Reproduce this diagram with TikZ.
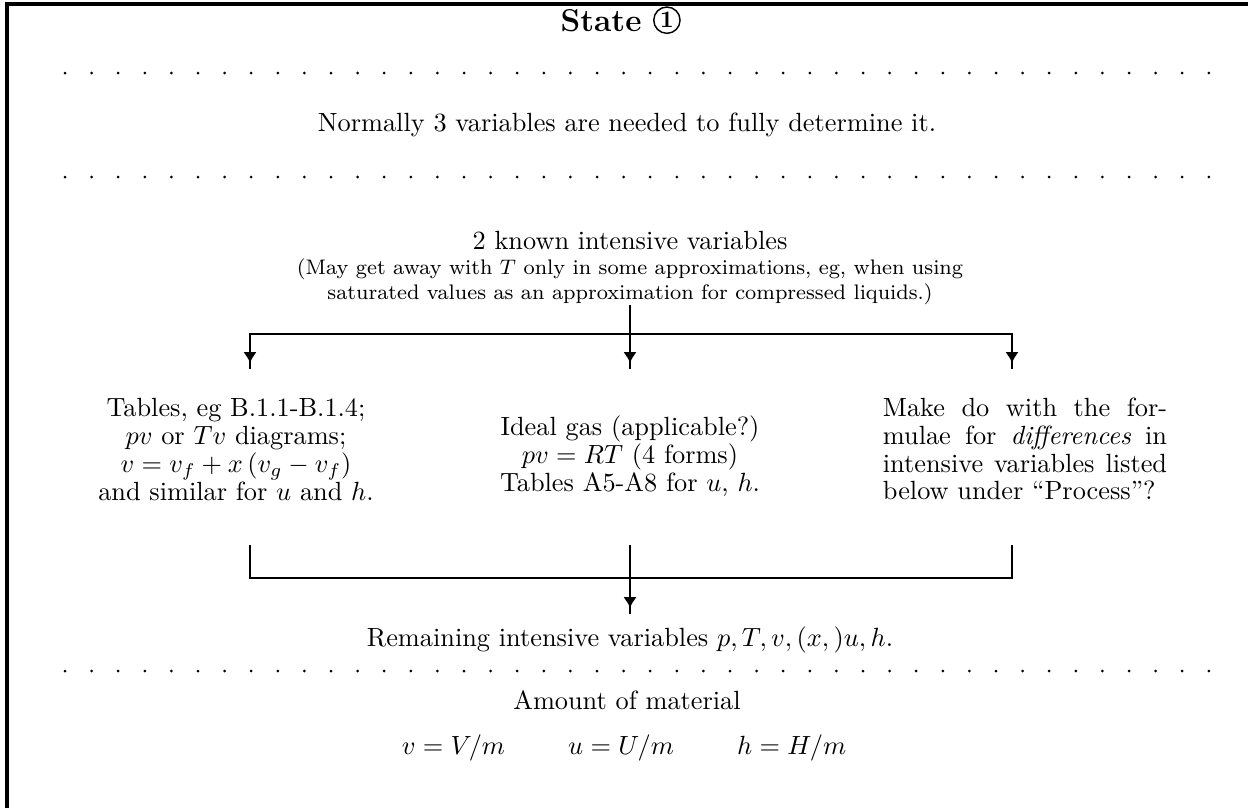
\documentclass[tikz,border=0pt]{standalone}
\usepackage{amsmath}
\usetikzlibrary{positioning,arrows.meta,decorations.markings}

\begin{document}
\begin{tikzpicture}[x=0.38pt,y=-0.38pt,
    every node/.style={inner sep=0pt},
    block/.style={align=center,font=\fontsize{10}{10.6}\selectfont},
    link/.style={line width=1.1pt},
    arr/.style={link,postaction={decorate},
        decoration={markings,mark=at position -2.3pt with {\arrow{Latex[length=4.1pt,width=5.1pt]}}}},
    ]
    \useasboundingbox (0,0) rectangle (1248,808);
    % frame (only top and left edge in view)
    \draw[line width=1.15pt] (7,808) -- (7,4) -- (1248,4);
    \node[anchor=base] (state) at (601,31) {\large\bfseries State};
    \node[circle,draw,line width=0.55pt,minimum size=10pt,right=4.2pt of state.east,
        font=\bfseries\small] (one) {1};
    % dotted rules
    \foreach \y in {73,177,671}
        \foreach \i in {0,...,43}
            \fill (65+\i*26.6,\y) circle[radius=1.5];
    \node (norm) at (627,125) {Normally 3 variables are needed to fully determine it.};
    \node (known) at (630,240) {2 known intensive variables};
    \node[below=3pt of known,align=center,font=\footnotesize] (note)
        {(May get away with $T$ only in some approximations, eg, when using\\
         saturated values as an approximation for compressed liquids.)};
    \coordinate (split) at (630,334);
    \coordinate (ltip) at (250,369);
    \coordinate (mtip) at (630,369);
    \coordinate (rtip) at (1012,369);
    \draw[link] (note) -- (split);
    \draw[arr] (split) -| (ltip);
    \draw[arr] (split) -- (mtip);
    \draw[arr] (split) -| (rtip);
    \node[block] (tab) at (236,449.5)
        {Tables, eg B.1.1-B.1.4;\\ $pv$ or $Tv$ diagrams;\\
         $v=v_f+x\,(v_g-v_f)$\\ and similar for $u$ and $h$.};
    \node[block] (gas) at (630,456)
        {Ideal gas (applicable?)\\ $pv=RT$ (4 forms)\\ Tables A5-A8 for $u$, $h$.};
    \node[block,text width=108pt,align=justify] (diff) at (1025,449)
        {Make do with the for-\linebreak mulae for \emph{differences} in\linebreak
         intensive variables listed\linebreak below under ``Process''?};
    % merging the three routes
    \coordinate (lend) at (250,545);
    \coordinate (mend) at (630,545);
    \coordinate (rend) at (1012,545);
    \coordinate (join) at (630,578);
    \coordinate (merge) at (630,614);
    \draw[link] (lend) |- (join) -| (rend);
    \draw[arr] (mend) -- (merge);
    \node (rem) at (630,640) {Remaining intensive variables $p,T,v,(x,)u,h$.};
    \node (amt) at (627,700) {Amount of material};
    \node (eqs) at (624,748) {$v=V/m \hspace{2.4em} u=U/m \hspace{2.4em} h=H/m$};
\end{tikzpicture}
\end{document}
